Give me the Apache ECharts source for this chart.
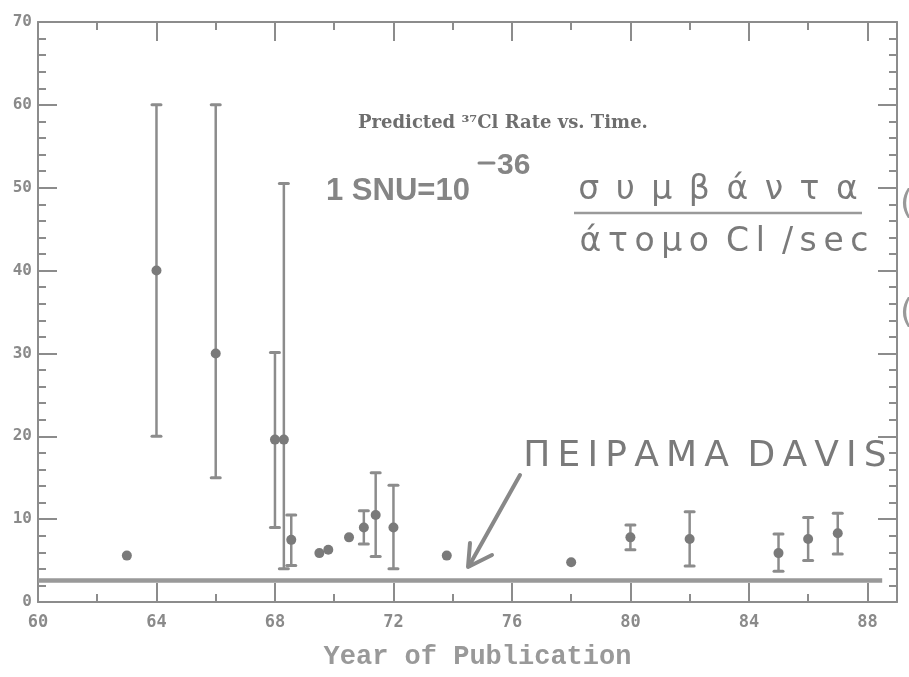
<!DOCTYPE html>
<html>
<head>
<meta charset="utf-8">
<title>Predicted 37Cl Rate vs. Time</title>
<script src="https://cdn.jsdelivr.net/npm/echarts@6/dist/echarts.min.js"></script>
<style>
  html, body { margin: 0; padding: 0; background: #fff; }
  #chart { width: 909px; height: 677px; }
</style>
</head>
<body>
<div id="chart"></div>
<script>
// year of publication, predicted rate (SNU), error bar ends (null = no bar)
var years = [63.0, 64.0, 66.0, 68.0, 68.3, 68.55, 69.5, 69.8, 70.5, 71.0, 71.4, 72.0, 73.8, 78.0, 80.0, 82.0, 85.0, 86.0, 87.0];
var rates = [5.6, 40, 30, 19.6, 19.6, 7.5, 5.9, 6.3, 7.8, 9.0, 10.5, 9.0, 5.6, 4.8, 7.8, 7.6, 5.9, 7.6, 8.3];
var lows  = [null, 20, 15, 9.0, 4.0, 4.4, null, null, null, 7.0, 5.5, 4.0, null, null, 6.3, 4.35, 3.7, 5.0, 5.8];
var highs = [null, 60, 60, 30.1, 50.5, 10.5, null, null, null, 11.0, 15.6, 14.1, null, null, 9.3, 10.9, 8.2, 10.2, 10.7];

// Davis experiment (measured rate)
var davisRate = 2.6;
var davisSpan = [60, 88.5];

var xTicks = [60, 64, 68, 72, 76, 80, 84, 88];
var yTicks = [0, 10, 20, 30, 40, 50, 60, 70];

var points = [];
var bars = [];
for (var i = 0; i < years.length; i++) {
  points.push([years[i], rates[i]]);
  if (lows[i] != null) bars.push([years[i], lows[i], highs[i]]);
}

var gray = '#8c8c8c';
var textGray = '#7a7a7a';

function renderErr(params, api) {
  var x = api.value(0);
  var top = api.coord([x, api.value(2)]);
  var bot = api.coord([x, api.value(1)]);
  var cw = 4.5;
  var st = { stroke: gray, lineWidth: 3, lineCap: 'round' };
  return {
    type: 'group',
    children: [
      { type: 'line', shape: { x1: top[0], y1: top[1], x2: bot[0], y2: bot[1] }, style: { stroke: gray, lineWidth: 2.5 } },
      { type: 'line', shape: { x1: top[0] - cw, y1: top[1], x2: top[0] + cw, y2: top[1] }, style: st },
      { type: 'line', shape: { x1: bot[0] - cw, y1: bot[1], x2: bot[0] + cw, y2: bot[1] }, style: st }
    ]
  };
}

var chart = echarts.init(document.getElementById('chart'));

var xBase = {
  type: 'value',
  min: xTicks[0],
  max: 89,
  interval: 4,
  splitLine: { show: false },
  axisLine: { onZero: false, lineStyle: { color: gray, width: 2 } },
  axisTick: { inside: true, length: 19, lineStyle: { color: gray, width: 2 } },
  minorTick: { show: true, splitNumber: 2, length: 8, lineStyle: { color: gray, width: 2 } }
};
var yBase = {
  type: 'value',
  min: yTicks[0],
  max: yTicks[yTicks.length - 1],
  interval: 10,
  splitLine: { show: false },
  axisLine: { onZero: false, lineStyle: { color: gray, width: 2 } },
  axisTick: { inside: true, length: 19, lineStyle: { color: gray, width: 2 } },
  minorTick: { show: true, splitNumber: 5, length: 8, lineStyle: { color: gray, width: 2 } }
};

chart.setOption({
  backgroundColor: '#fff',
  animation: false,
  grid: { left: 38, right: 12, top: 22, bottom: 75, containLabel: false, outerBoundsMode: 'none' },
  xAxis: [
    Object.assign({}, xBase, {
      position: 'bottom',
      name: 'Year of Publication',
      nameLocation: 'middle',
      nameGap: 42,
      nameTextStyle: { color: '#999', fontFamily: 'Liberation Mono', fontSize: 27, fontWeight: 'bold', padding: [0, 0, 0, 20] },
      axisLabel: { color: '#8a8a8a', fontFamily: 'DejaVu Sans Mono', fontWeight: 'bold', fontSize: 17, margin: 12, showMaxLabel: false }
    }),
    Object.assign({}, xBase, { position: 'top', axisLabel: { show: false } })
  ],
  yAxis: [
    Object.assign({}, yBase, {
      position: 'left',
      axisLabel: { color: '#8a8a8a', fontFamily: 'DejaVu Sans Mono', fontWeight: 'bold', fontSize: 16, margin: 6 }
    }),
    Object.assign({}, yBase, { position: 'right', axisLabel: { show: false } })
  ],
  series: [
    {
      type: 'line',
      data: [[davisSpan[0], davisRate], [davisSpan[1], davisRate]],
      symbol: 'none',
      lineStyle: { color: '#999', width: 4.5 },
      silent: true
    },
    {
      type: 'custom',
      data: bars,
      encode: { x: 0, y: [1, 2] },
      renderItem: renderErr,
      z: 3
    },
    {
      type: 'scatter',
      data: points,
      symbolSize: 10,
      itemStyle: { color: '#7a7a7a', opacity: 1 },
      z: 4
    }
  ],
  graphic: [
    { type: 'text', x: 358, y: 123, style: { text: 'Predicted \u00b3\u2077Cl Rate vs. Time.', fontFamily: 'DejaVu Serif', fontWeight: 'bold', fontSize: 18, fill: '#6e6e6e', textVerticalAlign: 'middle' } },
    { type: 'text', x: 326, y: 191, style: { text: '1 SNU=10', fontFamily: 'Liberation Sans', fontWeight: 'bold', fontSize: 31, fill: '#858585', textVerticalAlign: 'middle' } },
    { type: 'line', shape: { x1: 479, y1: 163, x2: 494, y2: 163 }, style: { stroke: '#858585', lineWidth: 3, lineCap: 'round' } },
    { type: 'text', x: 497, y: 166, style: { text: '36', fontFamily: 'Liberation Sans', fontWeight: 'bold', fontSize: 30, fill: '#858585', textVerticalAlign: 'middle' } },
    { type: 'text', x: 718, y: 190, style: { text: '\u03c3\u2002\u03c5\u2002\u03bc\u2002\u03b2\u2002\u03ac\u2002\u03bd\u2002\u03c4\u2002\u03b1', fontFamily: 'DejaVu Sans', fontSize: 33, fill: textGray, textAlign: 'center', textVerticalAlign: 'middle' } },
    { type: 'line', shape: { x1: 574, y1: 213, x2: 862, y2: 213 }, style: { stroke: '#9a9a9a', lineWidth: 2.5 } },
    { type: 'text', x: 724, y: 242, style: { text: '\u03ac\u2009\u03c4\u2009\u03bf\u2009\u03bc\u2009\u03bf\u2009 C\u2009l\u2009 /\u2009s\u2009e\u2009c', fontFamily: 'DejaVu Sans', fontSize: 33, fill: textGray, textAlign: 'center', textVerticalAlign: 'middle' } },
    { type: 'text', x: 705, y: 457, style: { text: '\u03a0\u2009\u0395\u2009\u0399\u2009\u03a1\u2009\u0391\u2009\u039c\u2009\u0391\u2009 D\u2009A\u2009V\u2009I\u2009S', fontFamily: 'DejaVu Sans', fontSize: 36, fill: textGray, textAlign: 'center', textVerticalAlign: 'middle' } },
    { type: 'polyline', shape: { points: [[520, 475], [469, 566]] }, style: { stroke: '#888', lineWidth: 4, lineCap: 'round' } },
    { type: 'polyline', shape: { points: [[470, 543], [468, 567], [492, 555]] }, style: { stroke: '#888', lineWidth: 4, lineCap: 'round', lineJoin: 'round', fill: null } },
    { type: 'text', x: 900, y: 205, style: { text: '(', fontFamily: 'DejaVu Sans', fontSize: 34, fill: '#999', textVerticalAlign: 'middle' } },
    { type: 'text', x: 900, y: 314, style: { text: '(', fontFamily: 'DejaVu Sans', fontSize: 34, fill: '#999', textVerticalAlign: 'middle' } }
  ]
});
</script>
</body>
</html>
